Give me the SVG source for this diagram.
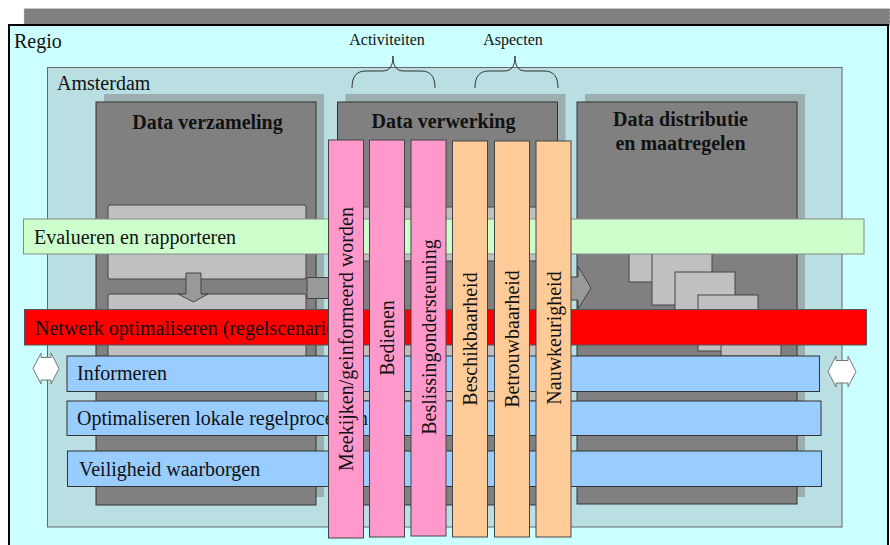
<svg xmlns="http://www.w3.org/2000/svg" width="890" height="545" viewBox="0 0 890 545">
<style>
text{font-family:"Liberation Serif","Times New Roman",serif;fill:#111;}
.lbl{font-size:20px;}
.ttl{font-size:20px;font-weight:bold;text-anchor:middle;}
.sm{font-size:16px;text-anchor:middle;}
.box{fill:#808080;stroke:#333;stroke-width:1;}
.shadow{fill:#9BAEB0;}
.inner{fill:#C0C0C0;stroke:#444;stroke-width:1;}
.garrow{fill:#999;stroke:#444;stroke-width:1;}
.pink{fill:#FF99CC;stroke:#444;stroke-width:1;}
.orange{fill:#FFCC99;stroke:#444;stroke-width:1;}
.blue{fill:#99CCFF;stroke:#333;stroke-width:1;}
.vt{font-size:20px;text-anchor:middle;}
.brace{fill:none;stroke:#333;stroke-width:1;}
.dbl{fill:#fff;stroke:#777;stroke-width:1;}
</style>

<g id="background">
<rect x="24" y="8.5" width="866" height="17" fill="#808080" stroke="#ccc" stroke-dasharray="2 2" stroke-width="1"/>
</g>

<g id="regio">
<rect x="9" y="25" width="879" height="530" fill="#CCFFFF" stroke="#000" stroke-width="2"/>
<text class="lbl" x="14" y="48">Regio</text>
</g>

<g id="amsterdam">
<rect x="47.5" y="67.5" width="794.5" height="459.5" fill="#BADFE2" stroke="#666" stroke-width="1"/>
<text class="lbl" x="57" y="90">Amsterdam</text>
</g>

<g id="labels">
<text class="sm" x="387" y="45">Activiteiten</text>
<path class="brace" d="M352,88 C352,77 356,71 366,71 L382,71 C390,71 393,66 393,56 C393,66 396,71 404,71 L421,71 C431,71 435,77 435,88"/>
<text class="sm" x="513" y="45">Aspecten</text>
<path class="brace" d="M475,88 C475,77 479,71 489,71 L504,71 C512,71 515,66 515,56 C515,66 518,71 526,71 L544,71 C554,71 558,77 558,88"/>
</g>

<g id="data-verzameling">
<rect class="shadow" x="104" y="94" width="220" height="403"/>
<rect class="box" x="96" y="102" width="220" height="403"/>
<rect class="inner" x="108" y="205" width="198" height="74" rx="2"/>
<rect class="inner" x="108" y="294" width="198" height="80" rx="2"/>
<polygon class="garrow" points="186,273 201,273 201,294 208,294 193.5,302 178,294 186,294"/>
<text class="ttl" x="207.5" y="129">Data verzameling</text>
</g>

<g id="data-verwerking">
<rect class="shadow" x="345.5" y="94" width="220" height="403"/>
<rect class="box" x="337.5" y="102" width="220" height="403"/>
<rect class="inner" x="348" y="207" width="198" height="54" rx="2"/>
<rect class="inner" x="348" y="343" width="198" height="58" rx="2"/>
<text class="ttl" x="443.5" y="128">Data verwerking</text>
</g>

<g id="data-distributie">
<rect class="shadow" x="585" y="94" width="220" height="403"/>
<rect class="box" x="577" y="102" width="220" height="402"/>
<rect class="inner" x="629" y="226" width="60" height="56"/>
<rect class="inner" x="652" y="249" width="60" height="56"/>
<rect class="inner" x="675" y="272" width="60" height="56"/>
<rect class="inner" x="698" y="295" width="60" height="56"/>
<rect class="inner" x="721" y="318" width="60" height="38"/>
<text class="ttl" x="680.5" y="126">Data distributie</text>
<text class="ttl" x="680.5" y="150">en maatregelen</text>
</g>

<g id="connectors">
<polygon class="garrow" points="307,277.5 336,277.5 336,270 350,288 336,306 336,298.5 307,298.5"/>
<polygon class="garrow" points="540,277 578,277 578,266 591,288 578,309 578,300 540,300"/>
</g>

<g id="evalueren">
<rect x="23.5" y="219" width="840.5" height="35" fill="#CCFFCC" stroke="#888" stroke-width="1"/>
<text class="lbl" x="34" y="244">Evalueren en rapporteren</text>
</g>

<g id="netwerk">
<rect x="24.5" y="309.5" width="842" height="35.5" fill="#FF0000" stroke="#555" stroke-width="1"/>
<text class="lbl" x="35" y="335">Netwerk optimaliseren (regelscenario's)</text>
</g>

<g id="informeren">
<rect class="blue" x="67" y="356" width="752.5" height="35.5"/>
<text class="lbl" x="77" y="380">Informeren</text>
</g>

<g id="optimaliseren">
<rect class="blue" x="67" y="401" width="754" height="34.5"/>
<text class="lbl" x="77" y="425">Optimaliseren lokale regelprocessen</text>
</g>

<g id="veiligheid">
<rect class="blue" x="67.5" y="451" width="754" height="35.5"/>
<text class="lbl" x="79" y="476">Veiligheid waarborgen</text>
</g>

<g id="arrow-left">
<polygon class="dbl" points="33,368.5 41,353 41,357.5 51,357.5 51,353 59,368.5 51,384 51,380 41,380 41,384"/>
</g>
<g id="arrow-right">
<polygon class="dbl" points="828,371.5 836,356 836,360.5 848,360.5 848,356 856,371.5 848,387 848,383 836,383 836,387"/>
</g>

<g id="meekijken">
<rect class="pink" x="328.5" y="140" width="35" height="398"/>
<text class="vt" transform="translate(353,339) rotate(-90)">Meekijken/geinformeerd worden</text>
</g>
<g id="bedienen">
<rect class="pink" x="369.5" y="140" width="35" height="397"/>
<text class="vt" transform="translate(394,338) rotate(-90)">Bedienen</text>
</g>
<g id="beslissing">
<rect class="pink" x="411" y="140" width="35" height="396"/>
<text class="vt" transform="translate(435.5,337) rotate(-90)">Beslissingondersteuning</text>
</g>
<g id="beschikbaarheid">
<rect class="orange" x="452.5" y="141" width="35" height="396"/>
<text class="vt" transform="translate(477,339) rotate(-90)">Beschikbaarheid</text>
</g>
<g id="betrouwbaarheid">
<rect class="orange" x="494.5" y="141" width="35" height="396"/>
<text class="vt" transform="translate(519,339) rotate(-90)">Betrouwbaarheid</text>
</g>
<g id="nauwkeurigheid">
<rect class="orange" x="536" y="141" width="35" height="396"/>
<text class="vt" transform="translate(560.5,338) rotate(-90)">Nauwkeurigheid</text>
</g>
</svg>
